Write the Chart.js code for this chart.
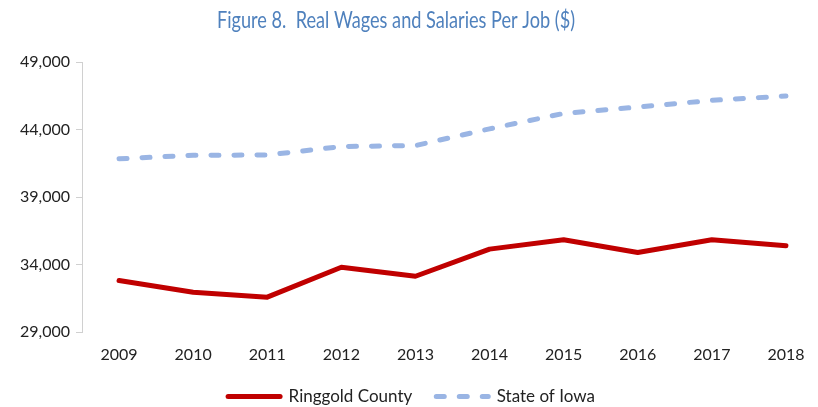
<!DOCTYPE html>
<html>
<head>
<meta charset="utf-8">
<script src="https://cdn.jsdelivr.net/npm/chart.js@4/dist/chart.umd.min.js"></script>
<style>
html,body{margin:0;padding:0;background:#fff;overflow:hidden;}
#wrap{width:830px;height:407px;}
</style>
</head>
<body>
<div id="wrap"><canvas id="c" width="830" height="407"></canvas></div>
<script>
const titleText = 'Figure 8.  Real Wages and Salaries Per Job ($)';
const years = ["2009","2010","2011","2012","2013","2014","2015","2016","2017","2018"];
const ringgold = [32810, 31950, 31580, 33800, 33130, 35140, 35830, 34890, 35830, 35390];
const iowa = [41830, 42090, 42110, 42740, 42810, 44050, 45190, 45660, 46160, 46480];
const yTicks = [29000, 34000, 39000, 44000, 49000];

const font = "Lato, 'Open Sans', sans-serif";

// Title drawn slightly condensed to mimic the narrow original typeface
const titlePlugin = {
  id: 'condensedTitle',
  afterDraw(chart) {
    const ctx = chart.ctx;
    ctx.save();
    ctx.font = "23px " + font;
    ctx.fillStyle = '#4F81BD';
    ctx.textBaseline = 'alphabetic';
    ctx.textAlign = 'left';
    const w = ctx.measureText(titleText).width;
    const target = 358;
    ctx.translate(396 - target / 2, 28);
    ctx.scale(target / w, 1);
    ctx.fillText(titleText, 0, 0);
    ctx.restore();
  }
};

new Chart(document.getElementById('c'), {
  type: 'line',
  data: {
    labels: years,
    datasets: [
      {label: 'Ringgold County', data: ringgold, borderColor: '#C00000', backgroundColor: '#C00000',
       borderWidth: 5, pointRadius: 0, tension: 0, borderCapStyle: 'round', borderJoinStyle: 'round'},
      {label: 'State of Iowa', data: iowa, borderColor: '#9AB5E4', backgroundColor: '#9AB5E4',
       borderWidth: 5, pointRadius: 0, tension: 0, borderDash: [8, 15], borderCapStyle: 'round', borderJoinStyle: 'round'}
    ]
  },
  plugins: [titlePlugin],
  options: {
    responsive: false,
    animation: false,
    layout: {padding: {left: 0, right: 7, top: 62, bottom: -8}},
    plugins: {
      title: {display: false},
      legend: {position: 'bottom',
        labels: {usePointStyle: true, pointStyle: 'line', pointStyleWidth: 52,
          color: '#222', font: {family: font, size: 17}, padding: 24, boxHeight: 5,
          generateLabels: (chart) => {
            const items = Chart.defaults.plugins.legend.labels.generateLabels(chart);
            return items.map((it, i) => {
              const ds = chart.data.datasets[i];
              it.lineWidth = 5;
              it.strokeStyle = ds.borderColor;
              it.fillStyle = ds.borderColor;
              it.lineDash = ds.borderDash || [];
              it.lineCap = 'round';
              it.pointStyle = 'line';
              return it;
            });
          }}},
      tooltip: {enabled: false}
    },
    scales: {
      x: {offset: true, grid: {display: false}, border: {display: false},
        afterFit: (s) => { s.height = 32; },
        ticks: {color: '#222', font: {family: font, size: 16}, padding: 5, maxRotation: 0}},
      y: {min: 29000, max: 49000,
        afterBuildTicks: (s) => { s.ticks = yTicks.map(v => ({value: v})); },
        afterFit: (s) => { s.width = 82; },
        grid: {drawOnChartArea: false, drawTicks: true, tickLength: 6, color: '#D0D0D0'},
        border: {display: true, color: '#D0D0D0', width: 1},
        ticks: {color: '#222', font: {family: font, size: 16}, padding: 6,
          callback: (v) => v.toLocaleString('en-US')}}
    }
  }
});
</script>
</body>
</html>
